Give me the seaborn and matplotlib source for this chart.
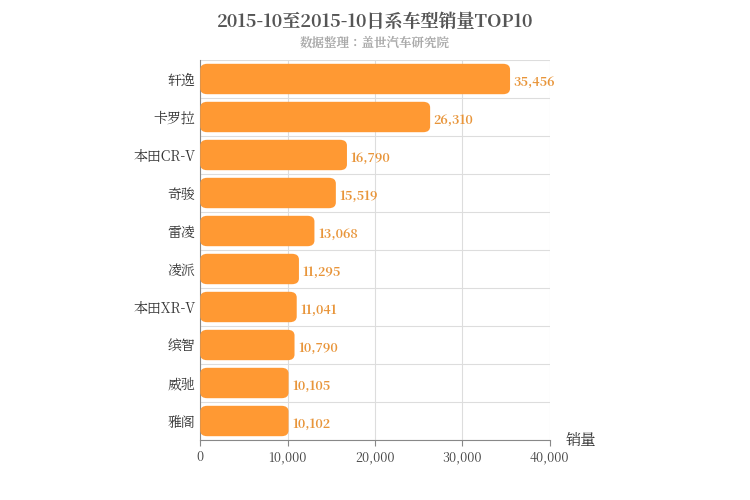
import matplotlib
matplotlib.use("Agg")
import matplotlib.pyplot as plt
from matplotlib import font_manager as fm
import seaborn as sns
import pandas as pd
from matplotlib.patches import FancyBboxPatch

# find an installed CJK font by file, fall back to names
cjk = None
for f in fm.findSystemFonts():
    if "CJK" in f or "cjk" in f.lower():
        try:
            fm.fontManager.addfont(f)
            name = fm.FontProperties(fname=f).get_name()
            if cjk is None or "SC" in name:
                cjk = name
        except Exception:
            pass
plt.rcParams["font.family"] = [cjk or "Noto Sans CJK SC", "DejaVu Sans"]

models = ["轩逸", "卡罗拉", "本田CR-V", "奇骏", "雷凌", "凌派", "本田XR-V", "缤智", "威驰", "雅阁"]
sales = [35456, 26310, 16790, 15519, 13068, 11295, 11041, 10790, 10105, 10102]
xticks = [0, 10000, 20000, 30000, 40000]

df = pd.DataFrame({"model": models, "sales": sales})

fig = plt.figure(figsize=(7.5, 5), dpi=100)
ax = fig.add_axes([0.267, 0.12, 0.466, 0.76])
sns.barplot(data=df, y="model", x="sales", color="#FF9933", width=0.8, ax=ax)

# swap plain bars for rounded ones
for p in list(ax.patches):
    x, y, w, h = p.get_x(), p.get_y(), p.get_width(), p.get_height()
    p.remove()
    ax.add_patch(FancyBboxPatch((x, y), w, h, boxstyle="round,pad=0,rounding_size=800",
                                mutation_aspect=0.15 / 800, facecolor="#FF9933",
                                edgecolor="none", zorder=3))

for i, v in enumerate(sales):
    ax.text(v + 400, i + 0.08, f"{v:,}", va="center", ha="left", color="#E8953A",
            fontsize=9, fontweight="bold")

ax.set_xlim(0, 40000)
ax.set_ylim(len(models) - 0.5, -0.5)
ax.set_xticks(xticks)
ax.set_xticklabels([f"{t:,}" for t in xticks], fontsize=9, color="#444444")
ax.tick_params(axis="y", labelsize=10, colors="#333333", length=0)
ax.tick_params(axis="x", length=4, color="#888888")
ax.set_ylabel("")
ax.set_xlabel("")
ax.set_yticks(range(len(models)))
ax.set_yticks([i + 0.5 for i in range(-1, len(models))], minor=True)
ax.grid(axis="x", color="#dddddd", linewidth=0.8, zorder=0)
ax.grid(axis="y", which="minor", color="#dddddd", linewidth=0.8, zorder=0)
ax.grid(axis="y", which="major", visible=False)
ax.tick_params(axis="y", which="minor", length=0)
ax.set_axisbelow(True)
for s in ["top", "right"]:
    ax.spines[s].set_visible(False)
ax.spines["left"].set_color("#888888")
ax.spines["bottom"].set_color("#888888")

fig.text(0.5, 0.955, "2015-10至2015-10日系车型销量TOP10", ha="center", va="center",
         fontsize=13, fontweight="bold", color="#555555")
fig.text(0.5, 0.915, "数据整理：盖世汽车研究院", ha="center", va="center",
         fontsize=9, color="#aaaaaa", fontweight="bold")
fig.text(0.775, 0.118, "销量", ha="center", va="center", fontsize=11, color="#333333")

fig.savefig("out.png", dpi=100)
